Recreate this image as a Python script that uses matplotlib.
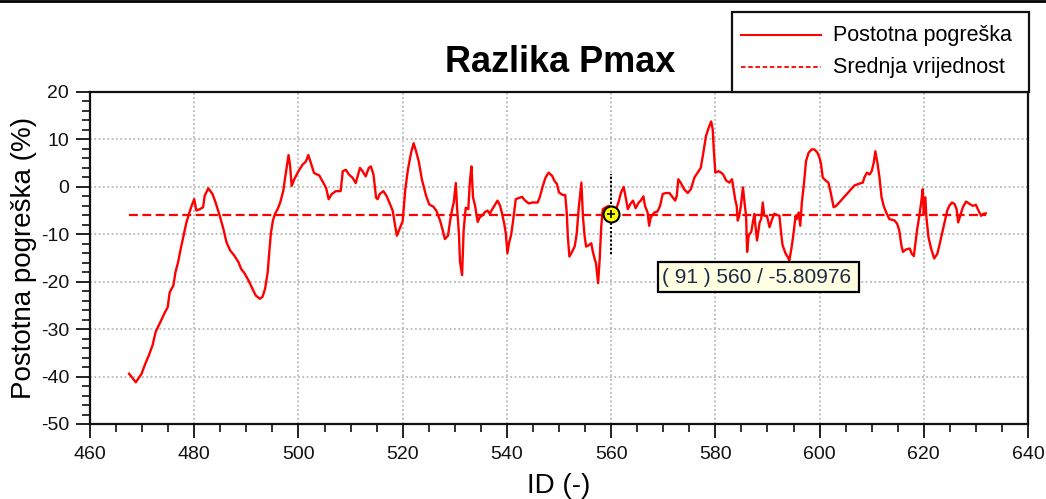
import matplotlib
matplotlib.use("Agg")
import matplotlib.pyplot as plt
from matplotlib.lines import Line2D
from matplotlib.patches import Rectangle
from matplotlib.ticker import MultipleLocator

plt.rcParams["font.family"] = ["Liberation Sans", "DejaVu Sans"]
plt.rcParams["axes.unicode_minus"] = False

# Percentage error of Pmax for each sample ID
ids = [
    467.5, 468.8, 469.9, 470.5, 471.3, 472.0, 472.6, 473.2, 473.8, 474.4, 474.9, 475.3,
    476.0, 476.4, 476.9, 477.4, 478.1, 478.5, 479.0, 479.4, 480.0, 480.4, 481.1, 481.7,
    482.0, 482.7, 483.5, 484.1, 484.9, 485.6, 486.2, 486.9, 487.7, 488.5, 489.0, 489.7,
    490.4, 491.0, 491.8, 492.6, 493.1, 493.6, 494.1, 494.4, 494.7, 495.1, 495.5, 496.0,
    496.5, 497.1, 497.4, 498.1, 498.4, 498.7, 499.2,
    500.0, 500.8, 501.4, 501.9, 502.4, 503.0, 504.0, 504.6, 505.3, 505.8, 506.4, 507.2,
    508.1, 508.5, 509.1, 509.7, 510.4, 511.0, 511.8, 512.3, 512.9, 513.5, 513.9, 514.4,
    514.9, 515.2, 515.6, 516.3, 516.9, 517.6, 518.1, 518.6, 518.9, 519.4, 520.0, 520.5,
    521.0, 521.6, 522.1, 522.6, 523.1, 523.7, 524.5, 525.1, 525.9, 526.5, 527.2, 527.7,
    528.1, 528.7, 529.1, 529.5, 529.8, 530.2, 530.4, 530.8, 531.0, 531.4, 531.7, 532.1,
    532.6, 532.9, 533.2,
    533.5, 533.9, 534.4, 534.8, 535.3, 535.8, 536.3, 536.7, 537.2, 537.8, 538.2, 538.7,
    539.0, 539.5, 539.8, 540.1, 540.4, 540.8, 541.2, 541.7, 542.2, 542.9, 543.5, 544.2,
    544.9, 545.9, 546.3, 546.9, 547.4, 548.0, 548.7, 549.1, 549.6, 550.0, 550.7, 551.2,
    551.5, 551.7, 552.0, 552.5, 553.0, 553.4, 553.8, 554.0, 554.3, 554.6, 554.9, 555.2,
    555.7, 556.2, 556.5, 556.9, 557.1, 557.5, 557.8, 558.1, 558.4, 559.0, 559.6, 560.0,
    561.1, 561.5, 561.9, 562.4, 562.8, 563.2, 563.7, 564.2, 564.7, 565.3, 565.7, 566.2,
    566.5, 567.0, 567.3, 567.6, 568.3, 568.9, 569.4, 569.9, 570.5, 571.2, 571.8, 572.3,
    572.6, 572.9, 573.4, 574.0, 574.7, 575.3, 576.0, 576.6, 577.2, 577.7, 578.2, 578.7,
    579.2, 579.5, 579.7, 580.0, 580.6, 581.1, 581.5, 582.1, 582.7, 583.2, 583.5, 583.8,
    584.1, 584.3, 584.6, 584.9, 585.3, 585.6, 585.9, 586.1, 586.4, 586.9, 587.2, 587.5,
    587.7, 588.0, 588.5, 588.8, 589.1, 589.4, 589.9, 590.4, 590.9, 591.3, 591.8, 592.3,
    592.6, 592.9, 593.5, 593.9, 594.2, 594.6, 595.0, 595.4, 595.6, 596.0, 596.3, 596.6,
    597.0, 597.4, 597.9, 598.5, 599.0, 599.6, 600.0, 600.3, 600.6, 601.1, 601.7, 602.2,
    602.7, 603.2, 606.7, 607.7, 608.3, 608.6, 609.1, 609.6, 610.0, 610.4, 610.7, 611.1,
    611.5, 611.9, 612.3, 612.8, 613.4, 614.4, 614.9, 615.3, 615.7, 616.0, 616.6, 617.3,
    617.7, 618.1, 618.3, 618.7, 619.2, 619.5, 619.8, 620.0, 620.3, 620.5, 620.9, 621.4,
    622.0, 622.6, 623.0, 623.5, 624.0, 624.5, 624.9, 625.4, 625.9, 626.3, 626.6, 627.0,
    627.5, 628.1, 628.8, 629.4, 630.0, 630.5, 631.0, 631.4, 631.9,
]
errors = [
    -39.4, -41.2, -39.4, -37.6, -35.5, -33.4, -30.6, -29.2, -27.8, -26.4, -25.4, -22.2,
    -20.8, -18.0, -15.9, -13.1, -9.6, -7.5, -5.7, -4.3, -2.6, -5.0, -4.7, -4.3,
    -1.9, -0.3, -1.5, -3.3, -6.1, -8.9, -11.7, -13.4, -14.5, -15.9, -17.3, -18.3,
    -19.7, -21.1, -22.9, -23.6, -23.2, -21.5, -18.0, -13.8, -9.9, -7.1, -5.7, -4.7,
    -3.3, -0.8, 1.6, 6.7, 4.4, 0.2, 1.6,
    3.3, 4.7, 5.3, 6.7, 5.0, 2.9, 2.4, 1.2, -0.2, -2.6, -1.5, -0.9,
    -0.9, 3.3, 3.6, 2.6, 1.9, 0.8, 4.0, 3.3, 2.2, 4.0, 4.3, 2.6,
    -2.3, -2.6, -1.5, -0.9, -1.9, -3.7, -5.1, -8.5, -10.3, -8.9, -7.2, -0.6,
    3.6, 7.1, 9.2, 7.4, 5.3, 1.5, -1.9, -3.7, -4.2, -5.1, -7.2, -9.2,
    -11.0, -10.3, -7.2, -4.7, -3.3, 0.8, -3.7, -9.9, -15.8, -18.6, -9.2, -4.4,
    -4.7, 1.2, 4.3,
    -2.2, -4.0, -7.4, -6.4, -6.0, -5.3, -5.0, -5.7, -4.7, -3.6, -2.9, -4.0,
    -5.3, -7.8, -9.9, -14.0, -11.9, -10.2, -7.1, -2.6, -2.4, -2.1, -2.9, -3.5,
    -3.3, -3.3, -2.2, 0.2, 1.9, 3.0, 2.3, 1.3, 0.6, -1.2, -1.7, -1.7,
    -5.7, -10.6, -14.7, -13.7, -12.6, -9.9, -4.3, -2.2, 0.9, -6.4, -10.2, -12.6,
    -12.3, -11.9, -13.7, -15.4, -16.1, -20.3, -15.4, -8.5, -4.7, -4.3, -4.0, -5.80976,
    -4.3, -2.9, -1.2, 0.0, -2.2, -4.7, -3.6, -2.9, -4.5, -3.3, -2.9, -2.0,
    -4.0, -5.4, -8.2, -6.4, -5.4, -5.2, -4.0, -1.5, -1.3, -1.3, -2.2, -2.9,
    -1.9, 1.6, 0.8, -0.5, -1.3, -0.5, 2.0, 3.0, 4.0, 7.2, 10.7, 12.4,
    13.8, 12.1, 7.9, 3.0, 3.3, 3.0, 2.6, 1.3, 0.9, 1.6, -0.5, -2.6,
    -4.0, -7.1, -6.1, -4.0, -0.1, -3.3, -6.1, -13.7, -10.2, -9.5, -7.5, -5.7,
    -8.2, -11.3, -7.5, -6.8, -3.3, -6.1, -6.1, -8.5, -6.8, -5.7, -5.9, -6.1,
    -9.5, -12.3, -14.1, -14.8, -15.5, -13.0, -9.9, -6.1, -6.8, -5.4, -8.2, -3.3,
    0.6, 5.4, 7.2, 7.9, 7.9, 7.2, 6.1, 4.7, 2.0, 1.4, 0.9, -1.5,
    -4.3, -4.0, 0.3, 0.7, 0.9, 2.0, 3.0, 2.6, 3.3, 5.1, 7.5, 5.1,
    2.0, -2.2, -4.0, -5.4, -6.8, -7.1, -7.8, -9.2, -12.3, -13.7, -13.2, -13.0,
    -14.1, -14.6, -12.7, -9.2, -5.7, -3.3, -0.5, -5.7, -2.2, -6.4, -10.6, -13.0,
    -15.1, -14.1, -12.3, -9.9, -7.5, -5.0, -4.0, -3.3, -3.6, -4.7, -7.5, -6.1,
    -4.3, -3.1, -3.6, -4.0, -3.8, -5.0, -6.1, -5.7, -5.6,
]
mean_error = -5.9

# Highlighted point
picked_index = 91
picked_id = 560
picked_error = -5.80976

title_text = "Razlika Pmax"
x_label = "ID (-)"
y_label = "Postotna pogreška (%)"
series_labels = ["Postotna pogreška", "Srednja vrijednost"]

W, H = 1046, 499
fig = plt.figure(figsize=(W / 100, H / 100), dpi=100)
fig.patch.set_facecolor("white")


def fx(px):
    return px / W


def fy(py):
    return 1 - py / H


ax = fig.add_axes([fx(90), fy(424), fx(1028) - fx(90), fy(92) - fy(424)])

red = "#ff0000"
ax.plot(ids, errors, color=red, lw=1.7, zorder=3)
ax.plot([ids[0], ids[-1]], [mean_error, mean_error], color=red, lw=1.6,
        linestyle=(0, (4, 2)), zorder=3)

ax.set_xlim(460, 640)
ax.set_ylim(-50, 20)
ax.xaxis.set_major_locator(MultipleLocator(20))
ax.xaxis.set_minor_locator(MultipleLocator(5))
ax.yaxis.set_major_locator(MultipleLocator(10))
ax.yaxis.set_minor_locator(MultipleLocator(2))

ax.grid(True, which="major", color="#b8b8b8", lw=1.3, linestyle=(0, (1, 1.4)))
ax.set_axisbelow(True)

for side in ["left", "bottom", "top", "right"]:
    ax.spines[side].set_linewidth(1.6)
    ax.spines[side].set_color("#111111")

ax.tick_params(which="major", direction="out", length=10, width=1.3,
               labelsize=14, pad=5, colors="#111111")
ax.tick_params(which="minor", direction="out", length=5.5, width=1.2, colors="#111111")
ax.tick_params(top=False, right=False, which="both")
ax.tick_params(axis="x", pad=6)

ax.set_xlabel(x_label, fontsize=20, labelpad=7)
ax.set_ylabel(y_label, fontsize=20, labelpad=3)

# Picked point with crosshair and value box
ax.plot([picked_id, picked_id], [-14.1, 2.7], color="black", lw=1.5,
        linestyle=(0, (1, 1)), zorder=4)
ax.plot([picked_id], [picked_error], marker="o", ms=11.5, mfc="#ffff00",
        mec="black", mew=1.5, zorder=5)
ax.plot([picked_id], [picked_error], marker="+", ms=6, mec="black", mew=1.2, zorder=6)

box = Rectangle((fx(658), fy(292)), fx(859) - fx(658), fy(262) - fy(292),
                transform=fig.transFigure, facecolor="#ffffe1", edgecolor="black",
                lw=1.6, zorder=10)
fig.add_artist(box)
fig.text(fx(757), fy(277.5), f"( {picked_index} ) {picked_id} / {picked_error}",
         ha="center", va="center", fontsize=15, color="#1c2a4a", zorder=11)

# Title
fig.text(fx(560), fy(62), title_text, ha="center", va="center", fontsize=26,
         fontweight="bold", color="black")

# Legend box
leg_box = Rectangle((fx(732), fy(92)), fx(1029) - fx(732), fy(12) - fy(92),
                    transform=fig.transFigure, facecolor="white", edgecolor="#111111",
                    lw=1.6, zorder=2)
fig.add_artist(leg_box)
fig.add_artist(Line2D([fx(741), fx(821)], [fy(35), fy(35)], transform=fig.transFigure,
                      color=red, lw=1.5))
fig.add_artist(Line2D([fx(741), fx(821)], [fy(67), fy(67)], transform=fig.transFigure,
                      color=red, lw=1.3, linestyle=(0, (2.5, 1.5))))
fig.text(fx(833), fy(36), series_labels[0], ha="left", va="center", fontsize=15.5)
fig.text(fx(833), fy(67), series_labels[1], ha="left", va="center", fontsize=15.5)

# Frame line along the top edge
fig.add_artist(Line2D([0, 1], [fy(1), fy(1)], transform=fig.transFigure,
                      color="black", lw=2))

fig.savefig("out.png", dpi=100, facecolor="white")
